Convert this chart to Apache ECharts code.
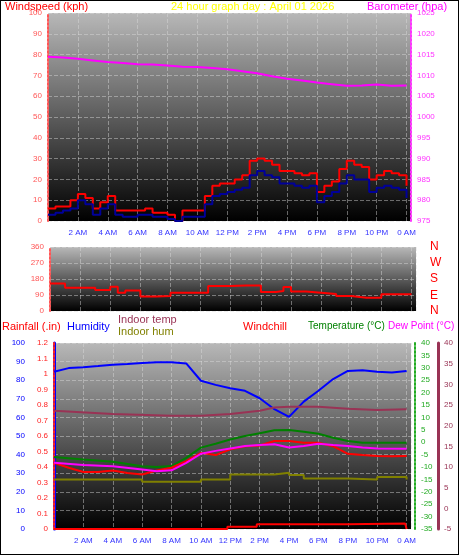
<!DOCTYPE html>
<html><head><meta charset="utf-8">
<script src="https://cdn.jsdelivr.net/npm/echarts@6/dist/echarts.min.js"></script>
<style>html,body{margin:0;padding:0;background:#fff}#c{width:459px;height:555px;box-sizing:border-box;border:1px solid #000}</style>
</head><body><div id="c"></div>
<script>
// hours (x) for half-hour wind samples
const windHours = [0,0.5,1,1.5,2,2.5,3,3.5,4,4.5,5,5.5,6,6.5,7,7.5,8,8.5,9,9.5,10,10.5,11,11.5,12,12.5,13,13.5,14,14.5,15,15.5,16,16.5,17,17.5,18,18.5,19,19.5,20,20.5,21,21.5,22,22.5,23,23.5,24];
const windGust = [6,7,7,10,13,11,6,9,12,5,5,5,5,6,4,4,3,0,5,5,5,12,17,18,18,20,22,29,30,29,27,24,24,23,22,23,14,17,19,25,29,27,26,20,22,24,23,22,17];
const windAvg  = [3,4,5,6,10,8,3,6,8,3,2,2,3,3,2,2,1,0,2,2,2,8,12,13,14,15,16,22,24,22,21,18,18,17,16,17,9,12,14,18,22,20,20,14,16,17,16,15,11];
const baroHours = [0,1,2,3,4,5,6,7,8,9,10,11,12,13,14,15,16,17,18,19,20,21,22,23,24];
const baro = [1014.5,1014.3,1014,1013.6,1013.2,1013,1012.7,1012.6,1012.4,1012.1,1012,1011.8,1011.5,1011,1010.5,1009.8,1009.2,1008.8,1008.3,1007.9,1007.5,1007.6,1007.8,1007.5,1007.6];
const dirHours = [0,1,2,3,4,4.5,5,6,7,8,9,10,10.5,11,12,13,14,15,15.5,16,17,18,19,20,21,22,23,24];
const windDir = [155,131,131,118,137,103,116,81,84,103,103,103,140,140,144,144,107,112,135,109,103,96,84,75,75,94,94,97];
const humHours = [0,1,2,3,4,5,6,7,8,9,10,11,12,13,14,15,16,17,18,19,20,21,22,23,24];
const humidity = [84.5,86.5,87,87.6,88.3,88.7,89.2,89.6,89.7,89,79.7,77.5,75.7,74.3,70.3,64.4,60.3,68.5,74.3,80.6,85,85.4,84.5,84.2,85];
const inTempHours = [0,4,8,10,12,14,15,16,18,20,22,24];
const indoorTemp = [23.6,22.8,22.4,22.4,22.8,23.6,24.4,24.6,24.6,24.1,23.8,24];
const inHumHours = [0,6,8,10,12,14,15,16,17,20,22,24];
const indoorHum = [26.6,25.4,25.4,26.6,29.3,29.3,30.2,29,27.2,26.6,28,26.6];
const tempHours = [0,2,4,6,7,8,9,10,11,12,13,14,15,16,17,18,19,20,21,22,24];
const temperature = [-6,-7,-7.9,-9.7,-10,-9.6,-6.3,-2.2,-0.6,1.1,2.5,3.6,4.8,4.9,4.2,3.4,1.8,0.5,-0.2,-0.2,-0.2];
const dewHours = [0,2,4,6,7,8,9,10,11,12,13,14,15,16,17,18,19,20,21,22,24];
const dewPoint = [11,10.5,10.2,9.4,9,9.2,11,13.2,13.9,14.5,15.1,15.3,15.5,14.7,15.1,15.6,15.3,15.1,14.7,14.5,14.4];
const chillHours = [0,1,2,3,4,5,6,7,8,9,10,11,12,13,14,15,16,17,18,19,20,21,22,23,24];
const windchill = [-8.3,-10.3,-12,-12,-11.4,-12.4,-13,-11.4,-10.3,-7.6,-4.3,-5.2,-2.9,-1.6,-1.3,0.5,0.5,-0.2,-0.2,-1.6,-4.7,-5.2,-5.6,-5.7,-5.6];
const rainHours = [0,11.8,13.8,20,23.9,24];
const rainfall = [0,0.015,0.03,0.035,0.035,0];

const zip = (a,b)=>a.map((x,i)=>[x,b[i]]);
const bg = () => new echarts.graphic.LinearGradient(0,0,0,1,[{offset:0,color:'#b8b8b8'},{offset:1,color:'#000'}]);
const hourFmt = v => { if (v===0) return ''; const h=Math.round(v)%24; if (h===0) return '0 AM'; if (h<12) return h+' AM'; if (h===12) return '12 PM'; return (h-12)+' PM'; };
const F = 'Liberation Sans';
const xAx = (gi, show) => ({type:'value', gridIndex:gi, min:0, max:24.3, interval:2,
  axisLine:{show:false}, axisTick:{show:false},
  axisLabel:{show:show, formatter:hourFmt, color:'#3333ff', fontSize:8, fontFamily:F, showMaxLabel:false},
  splitLine:{show:true, lineStyle:{color:'rgba(220,220,220,0.45)', type:'dashed', width:1}}});
const yAx = (gi, o) => Object.assign({type:'value', gridIndex:gi,
  axisLine:{show:true, lineStyle:{color:o.color, width:o.w||2, type:o.lt||'dotted'}},
  axisTick:{show:false},
  axisLabel:{color:o.color, fontSize:8, fontFamily:F, margin:o.m||6, formatter:v=>String(Math.round(v*10)/10)},
  splitLine:{show:!!o.split, lineStyle:{color:'rgba(220,220,220,0.45)', type:'dashed'}}}, o.extra);

const chart = echarts.init(document.getElementById('c'));
chart.setOption({
  animation:false,
  backgroundColor:'#fff',
  grid:[
    {left:47, top:12, width:363, height:208, show:true, backgroundColor:bg(), borderWidth:0},
    {left:49, top:246, width:366, height:64, show:true, backgroundColor:bg(), borderWidth:0},
    {left:53, top:342, width:357, height:186, show:true, backgroundColor:bg(), borderWidth:0}
  ],
  xAxis:[xAx(0,true), xAx(1,false), xAx(2,true)],
  yAxis:[
    yAx(0,{color:'#ff5555', split:true, extra:{min:0,max:100,interval:10, position:'left'}}),
    yAx(0,{color:'#ff33ff', extra:{min:975,max:1025,interval:5, position:'right'}}),
    yAx(1,{color:'#ff5555', split:true, extra:{min:0,max:360,interval:90, position:'left'}}),
    yAx(2,{color:'#0000ff', w:3, lt:'solid', split:true, extra:{min:0,max:100,interval:10, position:'left', offset:23}}),
    yAx(2,{color:'#ff2222', extra:{min:0,max:1.2,interval:0.1, position:'left', offset:0}}),
    yAx(2,{color:'#22aa22', extra:{min:-35,max:40,interval:5, position:'right', offset:4}}),
    yAx(2,{color:'#993355', w:3, lt:'solid', extra:{min:-5,max:40,interval:5, position:'right', offset:27}})
  ],
  series:[
    {type:'line', xAxisIndex:0, yAxisIndex:0, data:zip(windHours,windGust), showSymbol:false, step:'end', lineStyle:{color:'#ff0000',width:2}, z:2},
    {type:'line', xAxisIndex:0, yAxisIndex:0, data:zip(windHours,windAvg), showSymbol:false, step:'end', lineStyle:{color:'#000099',width:2}, z:3},
    {type:'line', xAxisIndex:0, yAxisIndex:1, data:zip(baroHours,baro), showSymbol:false, lineStyle:{color:'#ff00ff',width:2}},
    {type:'line', xAxisIndex:1, yAxisIndex:2, data:zip(dirHours,windDir), showSymbol:false, step:'end', lineStyle:{color:'#ff0000',width:2}},
    {type:'line', xAxisIndex:2, yAxisIndex:3, data:zip(humHours,humidity), showSymbol:false, lineStyle:{color:'#0000ff',width:2}},
    {type:'line', xAxisIndex:2, yAxisIndex:6, data:zip(inTempHours,indoorTemp), showSymbol:false, lineStyle:{color:'#993355',width:2}},
    {type:'line', xAxisIndex:2, yAxisIndex:3, data:zip(inHumHours,indoorHum), showSymbol:false, step:'end', lineStyle:{color:'#808000',width:2}},
    {type:'line', xAxisIndex:2, yAxisIndex:5, data:zip(tempHours,temperature), showSymbol:false, lineStyle:{color:'#008000',width:2}},
    {type:'line', xAxisIndex:2, yAxisIndex:5, data:zip(chillHours,windchill), showSymbol:false, lineStyle:{color:'#ff0000',width:2}},
    {type:'line', xAxisIndex:2, yAxisIndex:6, data:zip(dewHours,dewPoint), showSymbol:false, lineStyle:{color:'#ff00ff',width:2}},
    {type:'line', xAxisIndex:2, yAxisIndex:4, data:zip(rainHours,rainfall), showSymbol:false, step:'end', lineStyle:{color:'#ff0000',width:2}}
  ],
  graphic:[
    {type:'text', left:4, top:0, style:{text:'Windspeed (kph)', fill:'#ff0000', font:'11px '+F}},
    {type:'text', left:170, top:0, style:{text:'24 hour graph day : April 01 2026', fill:'#ffff00', font:'11px '+F}},
    {type:'text', left:366, top:0, style:{text:'Barometer (hpa)', fill:'#ff00ff', font:'11px '+F}},
    {type:'text', left:429, top:240, style:{text:'N', fill:'#ff0000', font:'12px '+F}},
    {type:'text', left:429, top:256, style:{text:'W', fill:'#ff0000', font:'12px '+F}},
    {type:'text', left:429, top:272, style:{text:'S', fill:'#ff0000', font:'12px '+F}},
    {type:'text', left:429, top:289, style:{text:'E', fill:'#ff0000', font:'12px '+F}},
    {type:'text', left:429, top:304, style:{text:'N', fill:'#ff0000', font:'12px '+F}},
    {type:'text', left:1, top:320, style:{text:'Rainfall (.in)', fill:'#ff0000', font:'11px '+F}},
    {type:'text', left:66, top:320, style:{text:'Humidity', fill:'#0000ff', font:'11px '+F}},
    {type:'text', left:117, top:313, style:{text:'Indoor temp', fill:'#993355', font:'11px '+F}},
    {type:'text', left:117, top:325, style:{text:'Indoor hum', fill:'#808000', font:'11px '+F}},
    {type:'text', left:242, top:320, style:{text:'Windchill', fill:'#ff0000', font:'11px '+F}},
    {type:'text', left:307, top:320, style:{text:'Temperature (°C)', fill:'#008000', font:'10px '+F}},
    {type:'text', left:387, top:320, style:{text:'Dew Point (°C)', fill:'#ff00ff', font:'10px '+F}}
  ]
});
</script></body></html>
